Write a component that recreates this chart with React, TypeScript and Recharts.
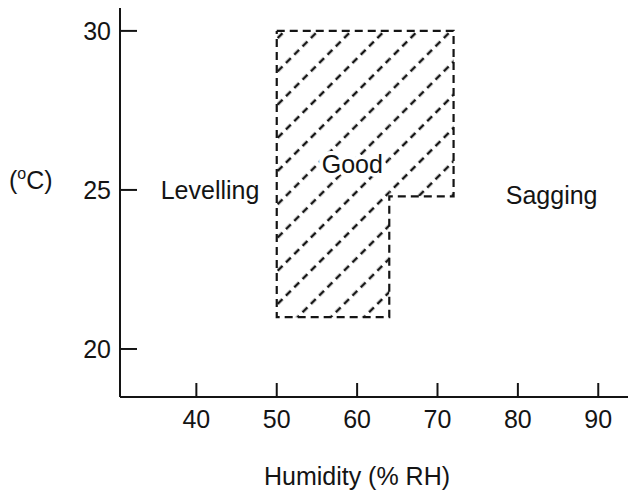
import React from 'react';
import {
    ReferenceArea,
    Scatter,
    ScatterChart,
    XAxis,
    YAxis
} from 'recharts';

const humidityTicks = [40, 50, 60, 70, 80, 90];
const tempTicks = [20, 25, 30];

// outline of the "Good" zone, walked clockwise
const zoneHumidity = [50, 72, 72, 64, 64, 50, 50];
const zoneTemp = [30, 30, 24.8, 24.8, 21, 21, 30];

const regionNames = ['Levelling', 'Good', 'Sagging'];
const regionHumidity = [41.7, 59.4, 84.2];
const regionTemp = [25, 25.8, 24.85];

const outline = zoneHumidity.map((h, i) => ({ h, t: zoneTemp[i] }));
const regions = regionNames.map((name, i) => ({ name, h: regionHumidity[i], t: regionTemp[i] }));

const FONT = '"Liberation Sans", Arial, Helvetica, sans-serif';
const INK = '#141414';

const XTick = ({ x, y, payload }: any) => (
    <g>
        <line x1={x} x2={x} y1={y} y2={y - 14} stroke={INK} strokeWidth={2} />
        <text x={x} y={y + 31} textAnchor="middle" fontSize={25} fontFamily={FONT} fill={INK}>
            {payload.value}
        </text>
    </g>
);

const YTick = ({ x, y, payload }: any) => (
    <g>
        <line x1={x} x2={x + 17} y1={y} y2={y} stroke={INK} strokeWidth={2} />
        <text x={x - 9} y={y + 9} textAnchor="end" fontSize={25} fontFamily={FONT} fill={INK}>
            {payload.value}
        </text>
    </g>
);

// white halo so the hatching breaks around the zone names
const RegionLabel = (props: any) => (
    <g>
        <text
            x={props.cx}
            y={props.cy + 9}
            textAnchor="middle"
            fontSize={25}
            fontFamily={FONT}
            fill="#fff"
            stroke="#fff"
            strokeWidth={8}
            strokeLinejoin="round"
        >
            {props.payload.name}
        </text>
        <text
            x={props.cx}
            y={props.cy + 9}
            textAnchor="middle"
            fontSize={25}
            fontFamily={FONT}
            fill={INK}
        >
            {props.payload.name}
        </text>
    </g>
);

const App: React.FC = () => {
    return (
        <div style={{ position: 'absolute', left: 0, top: 0, background: '#fff' }}>
            <ScatterChart width={628} height={493} margin={{ top: 8, right: 0, left: 0, bottom: 0 }}>
                <defs>
                    <pattern
                        id="hatch"
                        width={23.5}
                        height={23.5}
                        patternUnits="userSpaceOnUse"
                        patternTransform="rotate(45)"
                    >
                        <line x1={11.75} y1={0} x2={11.75} y2={23.5} stroke={INK} strokeWidth={2.5} strokeDasharray="6.75 5" />
                    </pattern>
                </defs>
                <XAxis
                    type="number"
                    dataKey="h"
                    domain={[30.5, 93.7]}
                    ticks={humidityTicks}
                    allowDataOverflow
                    height={96}
                    tickSize={0}
                    tickMargin={0}
                    tickLine={false}
                    tick={<XTick />}
                    axisLine={{ stroke: INK, strokeWidth: 2 }}
                    label={{
                        content: () => (
                            <text x={357} y={485} textAnchor="middle" fontSize={25} fontFamily={FONT} fill={INK}>
                                Humidity (% RH)
                            </text>
                        )
                    }}
                />
                <XAxis
                    xAxisId="top"
                    orientation="top"
                    type="number"
                    domain={[30.5, 93.7]}
                    height={0}
                    tick={false}
                    tickLine={false}
                    axisLine={{ stroke: INK, strokeWidth: 2 }}
                />
                <YAxis
                    type="number"
                    dataKey="t"
                    domain={[18.49, 30.72]}
                    ticks={tempTicks}
                    allowDataOverflow
                    width={120}
                    tickSize={0}
                    tickMargin={0}
                    tickLine={false}
                    tick={<YTick />}
                    axisLine={{ stroke: INK, strokeWidth: 2 }}
                    label={{
                        content: () => (
                            <text x={9} y={189} fontSize={25} fontFamily={FONT} fill={INK}>
                                <tspan>(</tspan>
                                <tspan fontSize={16} dy={-10}>o</tspan>
                                <tspan dy={10}>C)</tspan>
                            </text>
                        )
                    }}
                />
                <ReferenceArea
                    x1={zoneHumidity[0]}
                    x2={zoneHumidity[3]}
                    y1={zoneTemp[4]}
                    y2={zoneTemp[0]}
                    fill="url(#hatch)"
                    fillOpacity={1}
                    stroke="none"
                    ifOverflow="visible"
                />
                <ReferenceArea
                    x1={zoneHumidity[3]}
                    x2={zoneHumidity[1]}
                    y1={zoneTemp[2]}
                    y2={zoneTemp[0]}
                    fill="url(#hatch)"
                    fillOpacity={1}
                    stroke="none"
                    ifOverflow="visible"
                />
                <Scatter
                    data={outline}
                    line={{ stroke: INK, strokeWidth: 2.2, strokeDasharray: '8 5' }}
                    shape={() => <g />}
                    isAnimationActive={false}
                />
                <Scatter data={regions} shape={<RegionLabel />} isAnimationActive={false} />
            </ScatterChart>
        </div>
    );
};

export default App;
